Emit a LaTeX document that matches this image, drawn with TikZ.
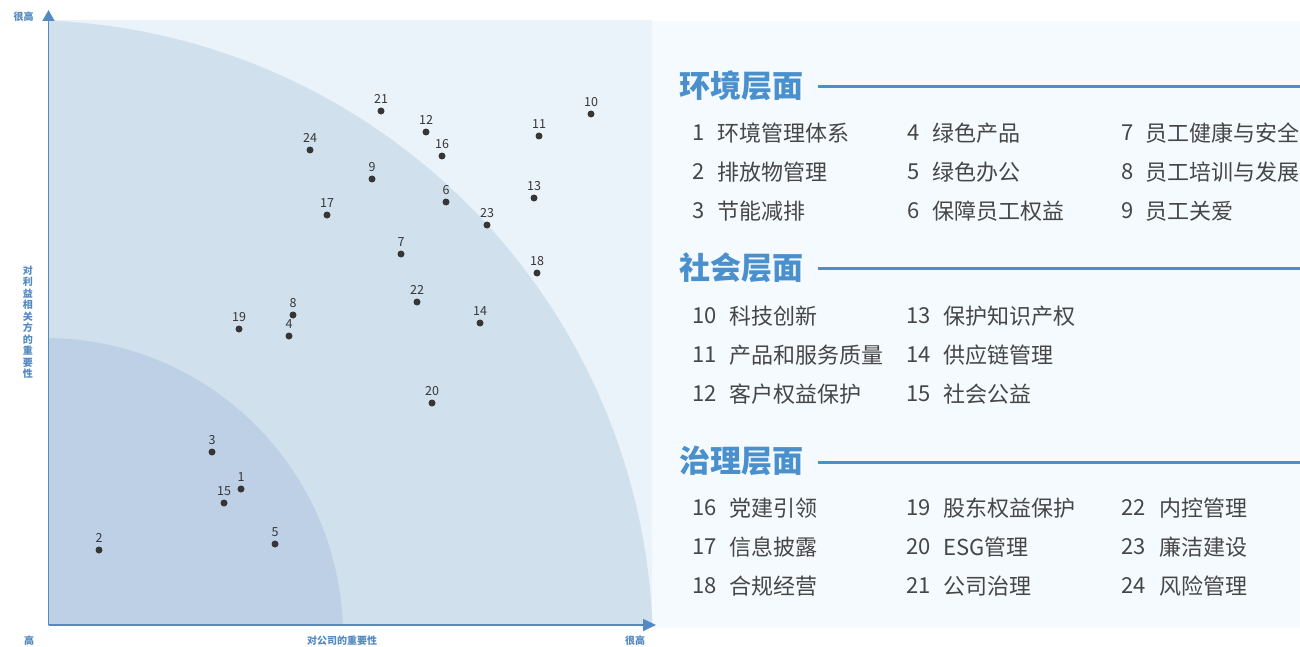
\documentclass[tikz,border=0pt]{standalone}
\usepackage{fontspec}
\setmainfont{Noto Sans CJK SC}
\usetikzlibrary{calc,arrows.meta}
\definecolor{plotbg}{RGB}{235,243,250}
\definecolor{midblue}{RGB}{208,224,237}
\definecolor{innerblue}{RGB}{190,208,230}
\definecolor{panelbg}{RGB}{245,250,254}
\definecolor{axisblue}{RGB}{84,138,194}
\definecolor{headblue}{RGB}{74,144,205}
\definecolor{textgray}{RGB}{70,70,70}
\definecolor{dotcol}{RGB}{54,54,54}
\begin{document}
\begin{tikzpicture}[x=1pt,y=-1pt,
  axis/.style={draw=axisblue,line width=1.6pt},
  axlbl/.style={inner sep=0,text=axisblue,font=\fontsize{10}{11.5}\selectfont\bfseries},
  dot/.style={circle,fill=dotcol,inner sep=0,minimum size=7pt},
  numlbl/.style={inner sep=0,text=dotcol,font=\fontsize{12.5}{14}\selectfont},
  item/.style={anchor=west,inner sep=0,text=textgray,font=\fontsize{22}{26}\selectfont},
  head/.style={anchor=west,inner sep=0,text=headblue,font=\fontsize{31}{36}\selectfont\bfseries},
  headline/.style={draw=headblue,line width=3pt}]
\useasboundingbox (0,0) rectangle (1300,647);
\fill[white] (0,0) rectangle (1300,647);
% plot background
\fill[plotbg] (48,20) rectangle (652,625);
\fill[panelbg] (652,21) rectangle (1300,628);
\begin{scope}
  \clip (48,20) rectangle (652,625);
  \fill[midblue] (22,651) circle[radius=631pt];
  \fill[innerblue] (45,636) circle[radius=298pt];
\end{scope}
% axes
\coordinate (O) at (48.5,625);
\coordinate (Ytip) at (48.5,10);
\coordinate (Xtip) at (656,625);
\draw[axis,-{Triangle[length=11pt,width=12pt]}] (O) -- (Ytip);
\draw[axis,-{Triangle[length=13pt,width=12pt]}] (O) -- (Xtip);
% axis labels
\node[axlbl] (ytop) at (23.5,17) {很高};
\node[axlbl,align=center] (ylbl) at (28,322) {对\\利\\益\\相\\关\\方\\的\\重\\要\\性};
\node[axlbl] (xlow) at (29,641) {高};
\node[axlbl] (xlbl) at (342,641) {对公司的重要性};
\node[axlbl] (xhigh) at (635,641) {很高};
% points
\foreach \n/\px/\py in {1/241/489,2/99/550,3/212/452,4/289/336,5/275/544,6/446/202,7/401/254,8/293/315,9/372/179,10/591/114,11/539/136,12/426/132,13/534/198,14/480/323,15/224/503,16/442/156,17/327/215,18/537/273,19/239/329,20/432/403,21/381/111,22/417/302,23/487/225,24/310/150}{
  \node[dot] (p\n) at (\px,\py) {};
  \node[numlbl] (l\n) at (\px,\py-12) {\n};
}
% legend: environment
\node[head] (envh) at (679,86) {环境层面};
\coordinate (envs) at (818,87); \coordinate (enve) at (1300,87);
\draw[headline] (envs) -- (enve);
\node[item] (n1) at (692,133) {1}; \node[item] (t1) at (717,133) {环境管理体系};
\node[item] (n2) at (692,172) {2}; \node[item] (t2) at (717,172) {排放物管理};
\node[item] (n3) at (692,211) {3}; \node[item] (t3) at (717,211) {节能减排};
\node[item] (n4) at (907,133) {4}; \node[item] (t4) at (932,133) {绿色产品};
\node[item] (n5) at (907,172) {5}; \node[item] (t5) at (932,172) {绿色办公};
\node[item] (n6) at (907,211) {6}; \node[item] (t6) at (932,211) {保障员工权益};
\node[item] (n7) at (1121,133) {7}; \node[item] (t7) at (1145,133) {员工健康与安全};
\node[item] (n8) at (1121,172) {8}; \node[item] (t8) at (1145,172) {员工培训与发展};
\node[item] (n9) at (1121,211) {9}; \node[item] (t9) at (1145,211) {员工关爱};
% legend: social
\node[head] (soch) at (679,268) {社会层面};
\coordinate (socs) at (818,268); \coordinate (soce) at (1300,268);
\draw[headline] (socs) -- (soce);
\node[item] (n10) at (692,316) {10}; \node[item] (t10) at (729,316) {科技创新};
\node[item] (n11) at (692,355) {11}; \node[item] (t11) at (729,355) {产品和服务质量};
\node[item] (n12) at (692,394) {12}; \node[item] (t12) at (729,394) {客户权益保护};
\node[item] (n13) at (906,316) {13}; \node[item] (t13) at (943,316) {保护知识产权};
\node[item] (n14) at (906,355) {14}; \node[item] (t14) at (943,355) {供应链管理};
\node[item] (n15) at (906,394) {15}; \node[item] (t15) at (943,394) {社会公益};
% legend: governance
\node[head] (govh) at (679,461) {治理层面};
\coordinate (govs) at (818,462); \coordinate (gove) at (1300,462);
\draw[headline] (govs) -- (gove);
\node[item] (n16) at (692,508) {16}; \node[item] (t16) at (729,508) {党建引领};
\node[item] (n17) at (692,547) {17}; \node[item] (t17) at (729,547) {信息披露};
\node[item] (n18) at (692,586) {18}; \node[item] (t18) at (729,586) {合规经营};
\node[item] (n19) at (906,508) {19}; \node[item] (t19) at (943,508) {股东权益保护};
\node[item] (n20) at (906,547) {20}; \node[item] (t20) at (943,547) {ESG管理};
\node[item] (n21) at (906,586) {21}; \node[item] (t21) at (943,586) {公司治理};
\node[item] (n22) at (1121,508) {22}; \node[item] (t22) at (1159,508) {内控管理};
\node[item] (n23) at (1121,547) {23}; \node[item] (t23) at (1159,547) {廉洁建设};
\node[item] (n24) at (1121,586) {24}; \node[item] (t24) at (1159,586) {风险管理};
\end{tikzpicture}
\end{document}
